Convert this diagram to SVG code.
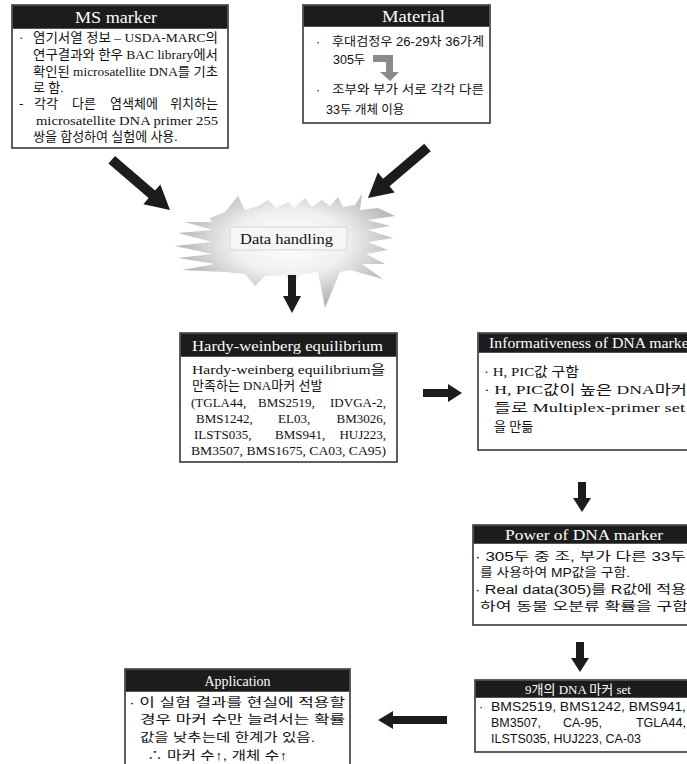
<svg xmlns="http://www.w3.org/2000/svg" width="687" height="764" viewBox="0 0 687 764">
<defs>
<radialGradient id="burst" cx="290" cy="242" r="115" gradientUnits="userSpaceOnUse" gradientTransform="translate(290 242) scale(1 0.55) translate(-290 -242)">
<stop offset="0" stop-color="#ffffff"/>
<stop offset="0.5" stop-color="#f0f0f0"/>
<stop offset="1" stop-color="#b4b4b4"/>
</radialGradient>
<style>
.box{fill:#fff;stroke:#2a2a2a;stroke-width:1.5}
.hdr{fill:#1c1c1c}
.ht{fill:#fff;font-family:"Liberation Serif","Noto Sans CJK KR",serif;font-size:14px;text-anchor:middle}
.bt{fill:#111;font-family:"Liberation Serif","Noto Sans CJK KR",serif;font-size:13px}
.st{fill:#111;font-family:"Liberation Sans","Noto Sans CJK KR",sans-serif;font-size:12.5px}
.arr{fill:#1c1c1c}
.r{text-anchor:end}
</style>
</defs>

<g id="ms-marker">
<rect class="box" x="12" y="5" width="216" height="143"/>
<rect class="hdr" x="12.75" y="5.75" width="214.5" height="23"/>
<text class="ht" x="116" y="23" style="font-size:17px" textLength="82" lengthAdjust="spacingAndGlyphs">MS marker</text>
<text class="bt" x="19" y="42">·</text>
<text class="bt" x="33" y="42" textLength="185" lengthAdjust="spacingAndGlyphs">염기서열 정보 – USDA-MARC의</text>
<text class="bt" x="33" y="59" textLength="185" lengthAdjust="spacingAndGlyphs">연구결과와 한우 BAC library에서</text>
<text class="bt" x="33" y="76" textLength="185" lengthAdjust="spacingAndGlyphs">확인된 microsatellite DNA를 기초</text>
<text class="bt" x="33" y="92">로 함.</text>
<text class="bt" x="19" y="108">-</text>
<text class="bt" x="34" y="108">각각</text>
<text class="bt" x="72" y="108">다른</text>
<text class="bt" x="110" y="108">염색체에</text>
<text class="bt r" x="218" y="108">위치하는</text>
<text class="bt" x="36" y="125" textLength="182" lengthAdjust="spacingAndGlyphs">microsatellite DNA primer 255</text>
<text class="bt" x="33" y="141">쌍을 합성하여 실험에 사용.</text>
</g>

<g id="material">
<rect class="box" x="303" y="5" width="187" height="118"/>
<rect class="hdr" x="303.75" y="5.75" width="185.5" height="21"/>
<text class="ht" x="413.5" y="21.5" style="font-size:16px" textLength="63" lengthAdjust="spacingAndGlyphs">Material</text>
<text class="st" x="316" y="46">·</text>
<text class="st" x="332" y="46" textLength="152" lengthAdjust="spacingAndGlyphs">후대검정우  26-29차  36가계</text>
<text class="st" x="333" y="64">305두</text>
<path d="M373 55 H393 V72 H399 L390 81 L380 72 H386 V62 H373 Z" fill="#8a8a8a"/>
<text class="st" x="316" y="94">·</text>
<text class="st" x="332" y="94" textLength="152" lengthAdjust="spacingAndGlyphs">조부와 부가 서로 각각 다른</text>
<text class="st" x="326" y="114">33두 개체 이용</text>
</g>

<g id="data-handling">
<polygon fill="url(#burst)" points="210,218 225,212 238,196 245,210 258,206 268,200 276,208 288,202 294,208 305,198 312,207 322,200 330,206 338,197 343,207 355,205 362,194 360,210 378,208 395,216 368,220 390,226 368,230 393,238 368,242 388,250 366,254 385,264 362,264 383,279 350,270 340,272 325,308 318,272 300,275 292,285 285,275 265,276 255,286 245,274 225,272 182,270 215,264 178,258 212,254 175,246 212,242 178,233 213,230 185,222 212,222"/>
<rect x="230" y="227" width="117" height="23" fill="#f6f6f6" stroke="#cfcfcf" stroke-width="0.8"/>
<text class="bt" x="240" y="244" style="font-size:15px" textLength="93" lengthAdjust="spacingAndGlyphs">Data handling</text>
</g>

<g id="hardy-weinberg">
<rect class="box" x="180" y="333" width="217" height="129"/>
<rect class="hdr" x="180.75" y="333.75" width="215.5" height="23"/>
<text class="ht" x="192" y="350.5" style="text-anchor:start;font-size:15px" textLength="191" lengthAdjust="spacingAndGlyphs">Hardy-weinberg equilibrium</text>
<text class="bt" x="192" y="374" textLength="193" lengthAdjust="spacingAndGlyphs">Hardy-weinberg equilibrium을</text>
<text class="bt" x="192" y="390">만족하는 DNA마커 선발</text>
<text class="bt" x="191" y="407">(TGLA44,</text>
<text class="bt" x="258" y="407">BMS2519,</text>
<text class="bt r" x="386" y="407">IDVGA-2,</text>
<text class="bt" x="196" y="423">BMS1242,</text>
<text class="bt" x="278" y="423">EL03,</text>
<text class="bt r" x="386" y="423">BM3026,</text>
<text class="bt" x="194" y="439">ILSTS035,</text>
<text class="bt" x="275" y="439">BMS941,</text>
<text class="bt r" x="386" y="439">HUJ223,</text>
<text class="bt" x="191" y="455" textLength="195" lengthAdjust="spacingAndGlyphs">BM3507, BMS1675, CA03, CA95)</text>
</g>

<g id="informativeness">
<rect class="box" x="478" y="333" width="230" height="117"/>
<rect class="hdr" x="478.75" y="333.75" width="228" height="19"/>
<text class="ht" x="489" y="348" style="text-anchor:start;font-size:14px" textLength="205" lengthAdjust="spacingAndGlyphs">Informativeness of DNA marker</text>
<text class="bt" x="484" y="376" textLength="95" lengthAdjust="spacingAndGlyphs">· H, PIC값 구함</text>
<text class="bt" x="484" y="394" textLength="203" lengthAdjust="spacingAndGlyphs">· H, PIC값이 높은 DNA마커</text>
<text class="bt" x="494" y="412" textLength="191" lengthAdjust="spacingAndGlyphs">들로 Multiplex-primer  set</text>
<text class="bt" x="494" y="431">을 만듦</text>
</g>

<g id="power">
<rect class="box" x="473" y="525" width="230" height="100"/>
<rect class="hdr" x="473.75" y="525.75" width="228" height="18"/>
<text class="ht" x="505" y="540" style="text-anchor:start;font-size:14px" textLength="158" lengthAdjust="spacingAndGlyphs">Power of DNA marker</text>
<text class="st" x="475" y="561" textLength="211" lengthAdjust="spacingAndGlyphs">· 305두 중 조, 부가 다른 33두</text>
<text class="st" x="480" y="577" textLength="150" lengthAdjust="spacingAndGlyphs">를 사용하여 MP값을 구함.</text>
<text class="st" x="475" y="594" textLength="211" lengthAdjust="spacingAndGlyphs">· Real data(305)를 R값에 적용</text>
<text class="st" x="480" y="611" textLength="208" lengthAdjust="spacingAndGlyphs">하여 동물 오분류 확률을 구함</text>
</g>

<g id="dna-marker-set">
<rect class="box" x="475" y="680" width="230" height="72"/>
<rect class="hdr" x="475.75" y="680.75" width="228" height="17"/>
<text class="ht" x="578" y="694" style="font-size:13px">9개의 DNA 마커 set</text>
<text class="st" x="479" y="711">·</text>
<text class="st" x="491" y="711" textLength="195" lengthAdjust="spacingAndGlyphs">BMS2519,  BMS1242,  BMS941,</text>
<text class="st" x="491" y="727">BM3507,</text>
<text class="st" x="563" y="727">CA-95,</text>
<text class="st r" x="686" y="727">TGLA44,</text>
<text class="st" x="491" y="743" textLength="150" lengthAdjust="spacingAndGlyphs">ILSTS035, HUJ223, CA-03</text>
</g>

<g id="application">
<rect class="box" x="125" y="669" width="225" height="110"/>
<rect class="hdr" x="125.75" y="669.75" width="223.5" height="22"/>
<text class="ht" x="237.5" y="686" style="font-size:14px">Application</text>
<text class="st" x="129" y="707" textLength="216" lengthAdjust="spacingAndGlyphs">· 이 실험 결과를 현실에 적용할</text>
<text class="st" x="140" y="724" textLength="205" lengthAdjust="spacingAndGlyphs">경우 마커 수만 늘려서는 확률</text>
<text class="st" x="140" y="742" textLength="175" lengthAdjust="spacingAndGlyphs">값을 낮추는데 한계가 있음.</text>
<text class="st" x="147" y="760" textLength="140" lengthAdjust="spacingAndGlyphs">∴ 마커 수↑, 개체 수↑</text>
</g>

<g id="connectors">
<polygon class="arr" transform="translate(170 210) rotate(40.8)" points="-77,-5 -24,-5 -24,-13 0,0 -24,13 -24,5 -77,5"/>
<polygon class="arr" transform="translate(368 198) rotate(139.7)" points="-78,-5 -24,-5 -24,-13 0,0 -24,13 -24,5 -78,5"/>
<polygon class="arr" points="288,275 296,275 296,296 301,296 292,313 283,296 288,296"/>
<polygon class="arr" points="423,389 448,389 448,384 462,393 448,402 448,397 423,397"/>
<polygon class="arr" points="578,482 586,482 586,498 591,498 582,512 573,498 578,498"/>
<polygon class="arr" points="576,642 584,642 584,658 589,658 580,672 571,658 576,658"/>
<polygon class="arr" points="447,716 393,716 393,711 378,720 393,729 393,724 447,724"/>
</g>
</svg>
